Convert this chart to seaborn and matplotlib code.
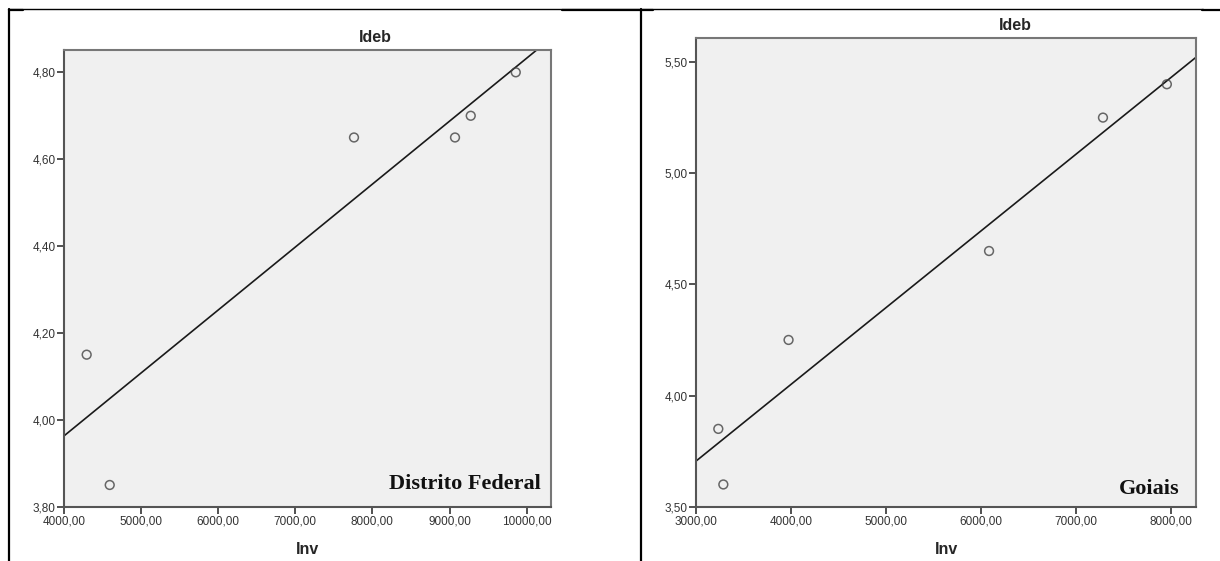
import matplotlib
matplotlib.use("Agg")
import matplotlib.pyplot as plt
from matplotlib.lines import Line2D
from matplotlib.ticker import FuncFormatter
import seaborn as sns
import numpy as np
import pandas as pd

sns.set_style("white")
plt.rcParams['font.family'] = ['Liberation Sans', 'DejaVu Sans']

# Data
df_inv = [4294, 4593, 7761, 9071, 9275, 9859]
df_ideb = [4.15, 3.85, 4.65, 4.65, 4.70, 4.80]
go_inv = [3235, 3288, 3975, 6087, 7287, 7960]
go_ideb = [3.85, 3.60, 4.25, 4.65, 5.25, 5.40]

df_xticks = [4000, 5000, 6000, 7000, 8000, 9000, 10000]
df_yticks = [3.80, 4.00, 4.20, 4.40, 4.60, 4.80]
go_xticks = [3000, 4000, 5000, 6000, 7000, 8000]
go_yticks = [3.50, 4.00, 4.50, 5.00, 5.50]

fig = plt.figure(figsize=(12.2, 5.61), dpi=100)
W, H = 1220, 561

def px_axes(l, t, r, b):
    return fig.add_axes([l / W, 1 - b / H, (r - l) / W, (b - t) / H])

ax1 = px_axes(64, 50, 550.7, 506.7)
ax2 = px_axes(696, 38, 1196, 506.7)

fmt = FuncFormatter(lambda v, p: f"{v:.2f}".replace(".", ","))

def draw(ax, x, y, xlim, ylim, xt, yt, label, lab_xy, title_x, title_y):
    ax.set_facecolor("#F0F0F0")
    ax.set_xlim(*xlim)
    data = pd.DataFrame({"Inv": x, "Ideb": y})
    sns.regplot(data=data, x="Inv", y="Ideb", ax=ax, ci=None, truncate=False,
                scatter_kws=dict(s=40, facecolors="none", edgecolors="#444444",
                                 linewidths=1.1, zorder=3),
                line_kws=dict(color="#1a1a1a", lw=1.2, zorder=2))
    ax.set_xlim(*xlim)
    ax.set_ylim(*ylim)
    ax.set_xticks(xt)
    ax.set_yticks(yt)
    ax.xaxis.set_major_formatter(fmt)
    ax.yaxis.set_major_formatter(fmt)
    ax.tick_params(axis="both", direction="out", length=5, width=1.2,
                   color="#333333", labelsize=8.5, labelcolor="#333333", pad=1,
                   bottom=True, left=True)
    for s in ["top", "right"]:
        ax.spines[s].set_color("#777777")
        ax.spines[s].set_linewidth(1.5)
    for s in ["left", "bottom"]:
        ax.spines[s].set_color("#555555")
        ax.spines[s].set_linewidth(1.5)
    ax.set_xlabel("Inv", fontsize=11.5, fontweight="bold", labelpad=11)
    ax.set_ylabel("")
    fig.text(title_x / W, 1 - title_y / H, "Ideb", fontsize=11.5, fontweight="bold",
             ha="center", va="center")
    fig.text(lab_xy[0] / W, 1 - lab_xy[1] / H, label, fontsize=16, fontweight="bold",
             family="Liberation Serif", ha="right", va="center", color="#111111")

draw(ax1, df_inv, df_ideb, (4000, 10312), (3.80, 4.8514), df_xticks, df_yticks,
     "Distrito Federal", (541, 484), 375, 37)
draw(ax2, go_inv, go_ideb, (3000, 8267), (3.50, 5.608), go_xticks, go_yticks,
     "Goiais", (1179, 489), 1015, 25)

# table-like frame lines
def fline(x0, y0, x1, y1, lw):
    fig.add_artist(Line2D([x0 / W, x1 / W], [1 - y0 / H, 1 - y1 / H], color="black",
                          lw=lw, transform=fig.transFigure))

fline(8, 9, 1203, 9, 1.0)
fline(9, 9, 9, 561, 1.6)
fline(641, 9, 641, 561, 1.6)
fline(9, 10, 23, 10, 1.6)
fline(562, 10, 653, 10, 1.6)
fline(1202, 10, 1220, 10, 1.6)

fig.savefig("out.png", dpi=100)
